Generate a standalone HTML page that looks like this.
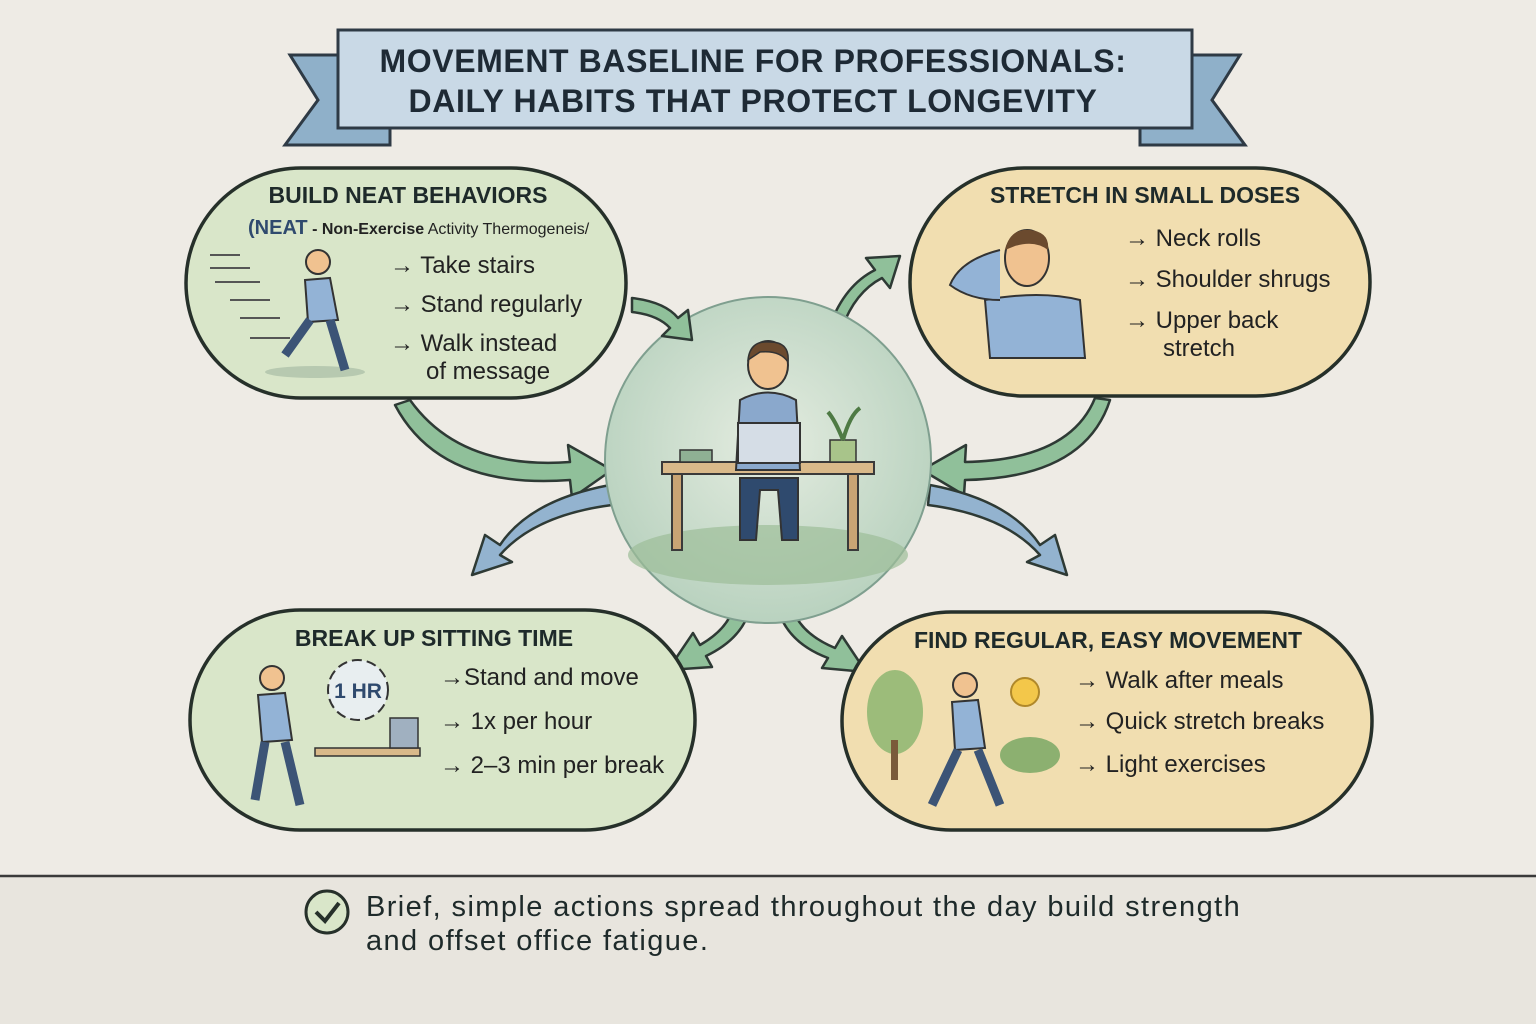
<!DOCTYPE html>
<html><head><meta charset="utf-8"><style>
html,body{margin:0;padding:0;width:1536px;height:1024px;overflow:hidden;background:#eeebe5;}
svg text{font-family:"Liberation Sans",sans-serif;}
</style></head><body>
<svg width="1536" height="1024" viewBox="0 0 1536 1024" xmlns="http://www.w3.org/2000/svg">
<defs>
<radialGradient id="cg" cx="50%" cy="45%" r="55%"><stop offset="0" stop-color="#e4ece0"/><stop offset="1" stop-color="#b9d2bf"/></radialGradient>
</defs>
<rect width="1536" height="1024" fill="#eeebe5"/>
<rect y="876" width="1536" height="148" fill="#e8e5de"/>
<line x1="0" y1="876" x2="1536" y2="876" stroke="#3a3a3a" stroke-width="2.5"/>

<polygon points="340,55 290,55 318,100 285,145 390,145 390,120 340,120" fill="#8fb0c9" stroke="#2e3a45" stroke-width="3"/>
<polygon points="1190,55 1240,55 1212,100 1245,145 1140,145 1140,120 1190,120" fill="#8fb0c9" stroke="#2e3a45" stroke-width="3"/>
<rect x="338" y="30" width="854" height="98" fill="#c9d9e6" stroke="#2e3a45" stroke-width="3"/>
<text x="753" y="72" text-anchor="middle" font-size="32" font-weight="bold" letter-spacing="0.6" fill="#1e2a35">MOVEMENT BASELINE FOR PROFESSIONALS:</text>
<text x="753" y="112" text-anchor="middle" font-size="32" font-weight="bold" letter-spacing="0.6" fill="#1e2a35">DAILY HABITS THAT PROTECT LONGEVITY</text>

<g stroke="#2e3a35" stroke-width="2.5" stroke-linejoin="round">
<path d="M410,400 Q460,470 570,462 L568,445 L612,470 L572,498 L570,480 Q440,490 395,405 Z" fill="#90c09a"/>
<path d="M1095,398 Q1070,460 965,462 L966,445 L922,470 L964,495 L965,480 Q1085,478 1110,400 Z" fill="#90c09a"/>
<path d="M830,325 Q845,285 875,270 L866,258 L900,256 L890,288 L882,278 Q855,292 842,328 Z" fill="#90c09a"/>
<path d="M610,485 Q530,500 500,545 L485,535 L472,575 L512,562 L500,555 Q535,515 612,505 Z" fill="#93b3cf"/>
<path d="M930,485 Q1010,500 1040,545 L1055,535 L1067,575 L1027,562 L1040,555 Q1005,515 928,505 Z" fill="#93b3cf"/>
<path d="M735,595 Q735,625 700,645 L693,633 L668,670 L712,667 L706,656 Q750,635 752,595 Z" fill="#90c09a"/>
<path d="M790,595 Q792,630 835,648 L842,636 L866,672 L822,668 L828,658 Q780,640 775,595 Z" fill="#90c09a"/>
</g>

<circle cx="768" cy="460" r="163" fill="url(#cg)" stroke="#7f9f8f" stroke-width="2"/>
<ellipse cx="768" cy="555" rx="140" ry="30" fill="#9cbd98" opacity=".7"/>
<rect x="662" y="462" width="212" height="12" fill="#d9b98a" stroke="#3a3a3a" stroke-width="2"/>
<rect x="672" y="474" width="10" height="76" fill="#c9a474" stroke="#3a3a3a" stroke-width="2"/>
<rect x="848" y="474" width="10" height="76" fill="#c9a474" stroke="#3a3a3a" stroke-width="2"/>
<path d="M740,400 Q768,385 796,400 L800,470 L736,470 Z" fill="#8aa8cc" stroke="#333" stroke-width="2"/>
<ellipse cx="768" cy="365" rx="20" ry="24" fill="#f0c290" stroke="#333" stroke-width="2"/>
<path d="M748,360 Q750,340 770,342 Q790,342 788,362 Q780,350 760,352 Z" fill="#6b4a2e" stroke="#333" stroke-width="1.5"/>
<rect x="738" y="423" width="62" height="40" fill="#d5dde6" stroke="#333" stroke-width="2"/>
<path d="M740,478 L740,540 L756,540 L760,490 L778,490 L782,540 L798,540 L798,478 Z" fill="#2f4a6e" stroke="#333" stroke-width="2"/>
<rect x="680" y="450" width="32" height="12" fill="#8fb094" stroke="#333" stroke-width="1.5"/>
<rect x="830" y="440" width="26" height="22" fill="#a8c48a" stroke="#333" stroke-width="1.5"/>
<path d="M843,440 Q835,420 828,412 M843,440 Q850,415 860,408" stroke="#4e7a44" stroke-width="4" fill="none"/>

<rect x="186" y="168" width="440" height="230" rx="115" fill="#d9e6c9" stroke="#26302a" stroke-width="3.5"/>
<rect x="910" y="168" width="460" height="228" rx="114" fill="#f1deb0" stroke="#26302a" stroke-width="3.5"/>
<rect x="190" y="610" width="505" height="220" rx="110" fill="#d9e6c9" stroke="#26302a" stroke-width="3.5"/>
<rect x="842" y="612" width="530" height="218" rx="109" fill="#f1deb0" stroke="#26302a" stroke-width="3.5"/>

<path d="M632,298 Q665,302 678,318 L688,310 L692,340 L662,336 L670,328 Q658,315 632,312 Z" fill="#90c09a" stroke="#2e3a35" stroke-width="2.5" stroke-linejoin="round"/>

<text x="408" y="203" text-anchor="middle" font-size="23" font-weight="bold" fill="#1e2a2a">BUILD NEAT BEHAVIORS</text>
<text x="248" y="234" font-size="16" fill="#222"><tspan font-size="20" font-weight="bold" fill="#2f4a6e">(NEAT</tspan> <tspan font-weight="bold">- Non-Exercise</tspan> Activity Thermogeneis/</text>
<g font-size="24" fill="#222">
<text x="390" y="273"><tspan font-weight="bold">→</tspan> Take stairs</text>
<text x="390" y="312"><tspan font-weight="bold">→</tspan> Stand regularly</text>
<text x="390" y="351"><tspan font-weight="bold">→</tspan> Walk instead</text>
<text x="426" y="379">of message</text>
</g>
<g stroke="#555" stroke-width="2"><line x1="210" y1="255" x2="240" y2="255"/><line x1="210" y1="268" x2="250" y2="268"/><line x1="215" y1="282" x2="260" y2="282"/><line x1="230" y1="300" x2="270" y2="300"/><line x1="240" y1="318" x2="280" y2="318"/><line x1="250" y1="338" x2="290" y2="338"/></g>
<ellipse cx="315" cy="372" rx="50" ry="6" fill="#b7c9b0"/>
<circle cx="318" cy="262" r="12" fill="#f0c290" stroke="#333" stroke-width="2"/>
<path d="M305,280 L330,278 L338,320 L308,322 Z" fill="#93b3d6" stroke="#333" stroke-width="2"/>
<path d="M310,320 L285,355 M330,320 L345,370" stroke="#3c5476" stroke-width="9"/>

<text x="1145" y="203" text-anchor="middle" font-size="23" font-weight="bold" fill="#1e2a2a">STRETCH IN SMALL DOSES</text>
<g font-size="24" fill="#222">
<text x="1125" y="246"><tspan font-weight="bold">→</tspan> Neck rolls</text>
<text x="1125" y="287"><tspan font-weight="bold">→</tspan> Shoulder shrugs</text>
<text x="1125" y="328"><tspan font-weight="bold">→</tspan> Upper back</text>
<text x="1163" y="356">stretch</text>
</g>
<path d="M985,300 Q1040,290 1080,300 L1085,358 L990,358 Z" fill="#93b3d6" stroke="#333" stroke-width="2"/>
<ellipse cx="1027" cy="258" rx="22" ry="28" fill="#f0c290" stroke="#333" stroke-width="2"/>
<path d="M1005,250 Q1010,228 1030,230 Q1050,232 1048,250 Q1035,240 1015,246 Z" fill="#6b4a2e"/>
<path d="M1000,250 Q960,260 950,285 Q970,300 1000,300" fill="#93b3d6" stroke="#333" stroke-width="2"/>

<text x="434" y="646" text-anchor="middle" font-size="23" font-weight="bold" fill="#1e2a2a">BREAK UP SITTING TIME</text>
<g font-size="24" fill="#222">
<text x="440" y="685"><tspan font-weight="bold">→</tspan>Stand and move</text>
<text x="440" y="729"><tspan font-weight="bold">→</tspan> 1x per hour</text>
<text x="440" y="773"><tspan font-weight="bold">→</tspan> 2–3 min per break</text>
</g>
<circle cx="358" cy="690" r="30" fill="#e8eef0" stroke="#333" stroke-width="2" stroke-dasharray="10 5"/>
<text x="358" y="698" text-anchor="middle" font-size="21" font-weight="bold" fill="#2f4a6e">1 HR</text>
<rect x="315" y="748" width="105" height="8" fill="#d9b98a" stroke="#333" stroke-width="1.5"/>
<rect x="390" y="718" width="28" height="30" fill="#a0b0c0" stroke="#333" stroke-width="1.5"/>
<circle cx="272" cy="678" r="12" fill="#f0c290" stroke="#333" stroke-width="2"/>
<path d="M258,695 L285,693 L292,740 L262,742 Z" fill="#93b3d6" stroke="#333" stroke-width="2"/>
<path d="M265,742 L255,800 M285,742 L300,805" stroke="#3c5476" stroke-width="9"/>

<text x="1108" y="648" text-anchor="middle" font-size="23" font-weight="bold" fill="#1e2a2a">FIND REGULAR, EASY MOVEMENT</text>
<g font-size="24" fill="#222">
<text x="1075" y="688"><tspan font-weight="bold">→</tspan> Walk after meals</text>
<text x="1075" y="729"><tspan font-weight="bold">→</tspan> Quick stretch breaks</text>
<text x="1075" y="772"><tspan font-weight="bold">→</tspan> Light exercises</text>
</g>
<circle cx="1025" cy="692" r="14" fill="#f3c74a" stroke="#b0882a" stroke-width="2"/>
<ellipse cx="895" cy="712" rx="28" ry="42" fill="#9cbc7a"/>
<rect x="891" y="740" width="7" height="40" fill="#7a5a3a"/>
<ellipse cx="1030" cy="755" rx="30" ry="18" fill="#8cb070"/>
<circle cx="965" cy="685" r="12" fill="#f0c290" stroke="#333" stroke-width="2"/>
<path d="M952,702 L978,700 L985,748 L955,750 Z" fill="#93b3d6" stroke="#333" stroke-width="2"/>
<path d="M958,750 L932,805 M978,750 L1000,805" stroke="#3c5476" stroke-width="9"/>

<circle cx="327" cy="912" r="21" fill="#d9e6c9" stroke="#26302a" stroke-width="3"/>
<path d="M316,912 L325,921 L339,903" stroke="#26302a" stroke-width="4" fill="none"/>
<text x="366" y="916" font-size="29" letter-spacing="1.4" fill="#1e2a2a">Brief, simple actions spread throughout the day build strength</text>
<text x="366" y="950" font-size="29" letter-spacing="1.4" fill="#1e2a2a">and offset office fatigue.</text>
</svg>
</body></html>
